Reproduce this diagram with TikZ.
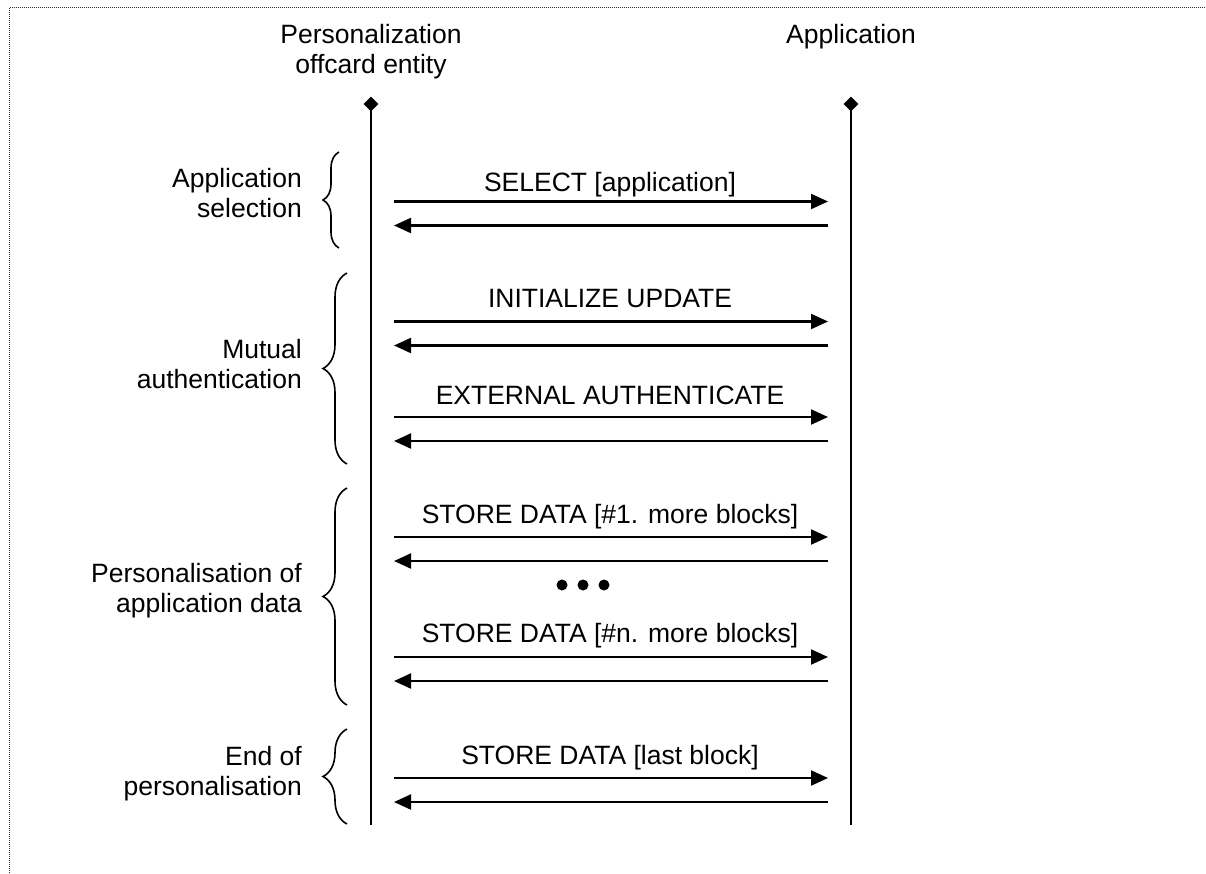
\documentclass[tikz,border=0pt]{standalone}
\usepackage{fontspec}
\setmainfont{Liberation Sans}
\usetikzlibrary{arrows.meta,shapes.geometric,decorations.pathreplacing}

\newcommand{\lblfont}{\fontsize{26.5}{30}\selectfont}

\tikzset{
  lifeline/.style={line width=2.3pt, black},
  head/.style={rectangle, rotate=45, fill=black, inner sep=0pt, minimum size=10.5pt},
  msg/.style={line width=2.1pt, -{Triangle[length=17pt,width=15pt]}},
  lbl/.style={font=\lblfont, inner sep=0pt, align=center},
  phase/.style={font=\lblfont, inner sep=0pt, align=right, anchor=east},
  grp/.style={line width=1.6pt, decorate, decoration={brace, amplitude=#1}},
  frame/.style={line width=1pt, black!80, dash pattern=on 1pt off 1pt},
  dot/.style={circle, fill=black, inner sep=0pt, minimum size=11pt}
}

\begin{document}
\begin{tikzpicture}[x=1pt, y=-1pt]
\useasboundingbox (0,0) rectangle (1206,873);

% dotted frame (top and left edges)
\coordinate (fbl) at (9,873);
\coordinate (ftl) at (9,7.5);
\coordinate (ftr) at (1206,7.5);
\draw[frame] (fbl) -- (ftl) -- (ftr);

% participants
\node[lbl] (hdrP) at (371,52.2) {\strut Personalization\\\strut offcard entity};
\node[lbl] (hdrA) at (851,37.4) {\strut Application};

% lifelines
\node[head] (topP) at (371,104) {};
\node[head] (topA) at (851,104) {};
\coordinate (botP) at (371,825);
\coordinate (botA) at (851,825);
\draw[lifeline] (topP.center) -- (botP);
\draw[lifeline] (topA.center) -- (botA);

% command / response pairs
\foreach \i/\ty/\fy/\txt in {
  1/182/201.5/{SELECT [application]},
  2/298/321.5/{INITIALIZE UPDATE},
  3/395/417/{EXTERNAL AUTHENTICATE},
  4/514/537/{STORE DATA [\#1. more blocks]},
  5/633/657/{STORE DATA [\#n. more blocks]},
  6/755/778/{STORE DATA [last block]}}{
  \node[lbl] (m\i) at (610,\ty+3.4) {\strut\txt};
  \coordinate (cs\i) at (394,\fy);
  \coordinate (ce\i) at (828,\fy);
  \coordinate (rs\i) at (828,\fy+24);
  \coordinate (re\i) at (394,\fy+24);
  \draw[msg] (cs\i) -- (ce\i);
  \draw[msg] (rs\i) -- (re\i);
}

% ellipsis between the data blocks
\node[dot] (d1) at (562,585) {};
\node[dot] (d2) at (583,585) {};
\node[dot] (d3) at (604,585) {};

% phases
\node[phase] (ph1) at (302,196.4) {\strut Application\\\strut selection};
\node[phase] (ph2) at (302,367) {\strut Mutual\\\strut authentication};
\node[phase] (ph3) at (302,591.5) {\strut Personalisation of\\\strut application data};
\node[phase] (ph4) at (302,774) {\strut End of\\\strut personalisation};

\coordinate (b1s) at (339,248); \coordinate (b1e) at (339,152);
\coordinate (b2s) at (347,464); \coordinate (b2e) at (347,273);
\coordinate (b3s) at (347,705); \coordinate (b3e) at (347,488);
\coordinate (b4s) at (347,824); \coordinate (b4e) at (347,729);
\draw[grp=16pt] (b1s) -- (b1e);
\draw[grp=24pt] (b2s) -- (b2e);
\draw[grp=24pt] (b3s) -- (b3e);
\draw[grp=24pt] (b4s) -- (b4e);
\end{tikzpicture}
\end{document}
